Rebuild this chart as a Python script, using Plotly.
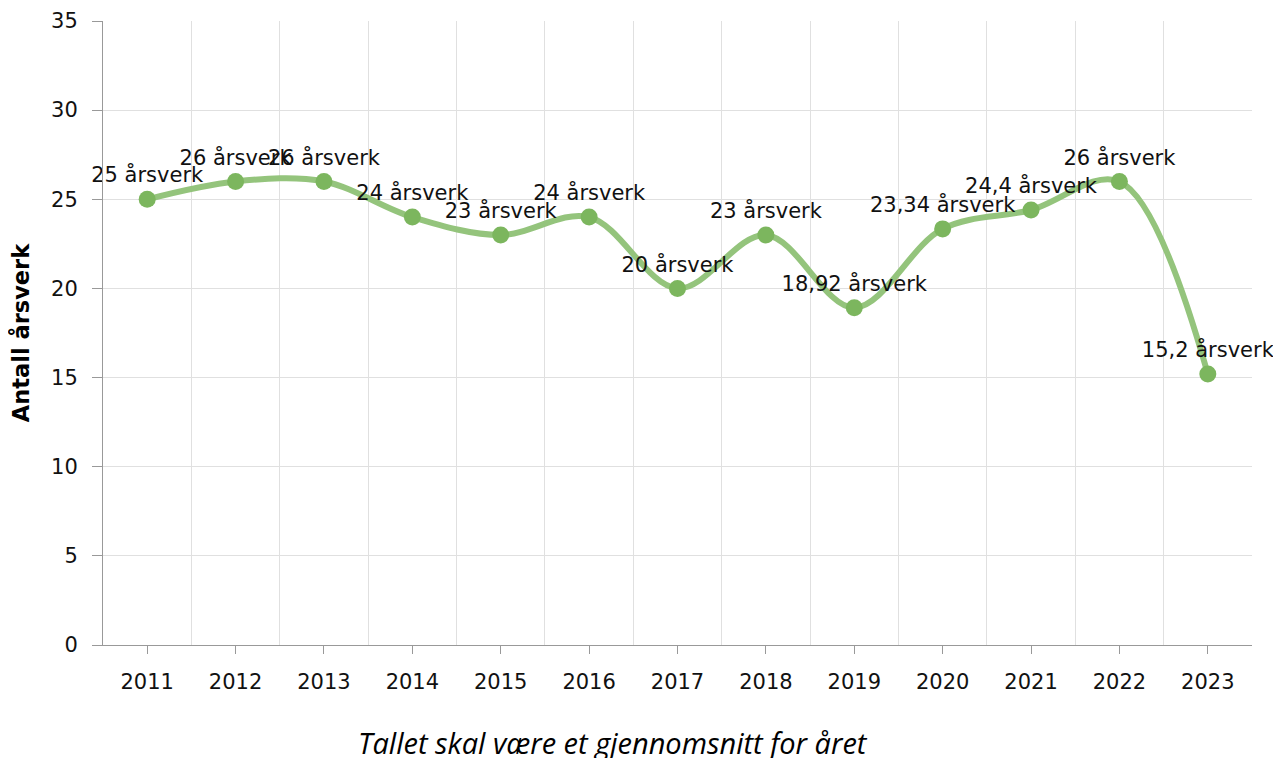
import plotly.graph_objects as go

years = ["2011", "2012", "2013", "2014", "2015", "2016", "2017", "2018", "2019", "2020", "2021", "2022", "2023"]
values = [25, 26, 26, 24, 23, 24, 20, 23, 18.92, 23.34, 24.4, 26, 15.2]
y_ticks = [0, 5, 10, 15, 20, 25, 30, 35]
y_title = "Antall årsverk"
x_title = "Tallet skal være et gjennomsnitt for året"

labels = [("%g" % v).replace(".", ",") + " årsverk" for v in values]
xpos = list(range(len(years)))

fig = go.Figure()
fig.add_trace(go.Scatter(
    x=xpos, y=values, mode="lines+markers+text",
    line=dict(color="#94c47c", width=6, shape="spline", smoothing=1),
    marker=dict(color="#7cb65e", size=17),
    text=labels, textposition="top center",
    textfont=dict(family="DejaVu Sans", size=21, color="#111"),
    cliponaxis=False, showlegend=False,
))

# page body has an 8px margin: figure is 1273x750 placed at (8, 8)
fig.update_layout(
    width=1273, height=750,
    margin=dict(l=95, r=29, t=13, b=113),
    plot_bgcolor="white", paper_bgcolor="white",
    font=dict(family="DejaVu Sans", size=21, color="#111"),
    xaxis=dict(
        automargin=False,
        range=[-0.5, len(years) - 0.5],
        tickvals=xpos, ticktext=years,
        ticks="outside", ticklen=8, tickcolor="#999",
        ticklabelstandoff=10,
        showgrid=False, zeroline=False,
        showline=True, linecolor="#999", linewidth=1,
        minor=dict(tickvals=[i - 0.5 for i in range(len(years) + 1)],
                   showgrid=True, gridcolor="#e0e0e0", gridwidth=1, ticks=""),
        tickfont=dict(size=21),
    ),
    yaxis=dict(
        automargin=False,
        range=[0, 35], tickvals=y_ticks,
        ticks="outside", ticklen=10, tickcolor="#999",
        ticklabelstandoff=10,
        showgrid=True, gridcolor="#e0e0e0", zeroline=False,
        showline=True, linecolor="#999", linewidth=1,
        title=dict(text="<b>" + y_title + "</b>", font=dict(family="DejaVu Sans", size=22.5, color="#000"), standoff=15),
        tickfont=dict(size=21),
    ),
    annotations=[dict(
        text="<i>" + x_title + "</i>", x=(605 - 95) / (1273 - 95 - 29), xref="paper",
        y=-(734 - 637) / 624, yref="paper",
        yanchor="middle", xanchor="center", showarrow=False,
        font=dict(family="Open Sans", size=29, color="#000"),
    )],
)

fig.write_html("out.html")
